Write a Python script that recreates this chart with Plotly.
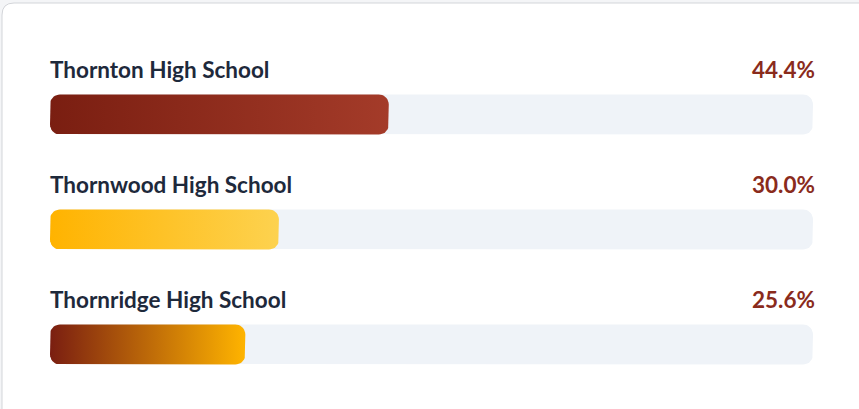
import numpy as np
import plotly.graph_objects as go

schools = ["Thornton High School", "Thornwood High School", "Thornridge High School"]
shares = [44.4, 30.0, 25.6]
labels = ["44.4%", "30.0%", "25.6%"]
grad_start = ["#7a1e11", "#ffb300", "#7a1e11"]
grad_end = ["#a43b29", "#fdd24f", "#ffb400"]

W, H = 859, 409
TRACK_X0, TRACK_X1 = 50, 813
PX_PER_UNIT = (TRACK_X1 - TRACK_X0) / 100.0
BAR_H = 40
RADIUS = 10
ROW_CENTERS = [114.5, 229.5, 344.5]


def rounded_rect(x0, x1, yc, h, r_px):
    rx = r_px / PX_PER_UNIT
    ry = r_px
    y0, y1 = yc - h / 2, yc + h / 2
    xs, ys = [], []
    corners = [
        (x1 - rx, y0 + ry, -np.pi / 2, 0),
        (x1 - rx, y1 - ry, 0, np.pi / 2),
        (x0 + rx, y1 - ry, np.pi / 2, np.pi),
        (x0 + rx, y0 + ry, np.pi, 1.5 * np.pi),
    ]
    for cx, cy, a0, a1 in corners:
        t = np.linspace(a0, a1, 10)
        xs.extend(cx + rx * np.cos(t))
        ys.extend(cy + ry * np.sin(t))
    xs.append(xs[0])
    ys.append(ys[0])
    return xs, ys


fig = go.Figure()

for i, (name, val) in enumerate(zip(schools, shares)):
    yc = ROW_CENTERS[i]
    tx, ty = rounded_rect(0, 100, yc, BAR_H, RADIUS)
    fig.add_trace(go.Scatter(x=tx, y=ty, mode="lines", fill="toself",
                             fillcolor="#eff3f8", line=dict(width=0),
                             hoverinfo="skip", showlegend=False))
    bx, by = rounded_rect(0, val, yc, BAR_H, RADIUS)
    fig.add_trace(go.Scatter(x=bx, y=by, mode="lines", fill="toself",
                             fillgradient=dict(type="horizontal",
                                               colorscale=[[0, grad_start[i]], [1, grad_end[i]]]),
                             line=dict(width=0), name=name,
                             hovertemplate=f"{name}: {labels[i]}<extra></extra>",
                             showlegend=False))
    fig.add_annotation(x=0, y=yc - 45, text=name, showarrow=False,
                       xanchor="left", yanchor="middle", xshift=-2,
                       font=dict(family="Lato", size=22.5, color="#1e293b", weight="bold"))
    fig.add_annotation(x=100, y=yc - 45, text=labels[i], showarrow=False,
                       xanchor="right", yanchor="middle", xshift=4,
                       font=dict(family="Lato", size=22.5, color="#8a2b1c", weight="bold"))

# card background
fig.add_shape(type="path", xref="paper", yref="paper", layer="below",
              path=("M {a},{b} L {c},{b} L {c},{d} L {e},{d} Q {f},{d} {f},{g} L {f},{h} Q {f},{b} {i},{b} Z").format(
                  a=1.02, b=-0.05, c=1.02, d=1 - 3 / H, e=14 / W, f=2 / W, g=1 - 15 / H, h=-0.05, i=14 / W),
              fillcolor="white", line=dict(color="#d3d5d9", width=1))

fig.update_layout(
    width=W, height=H,
    margin=dict(l=0, r=0, t=0, b=0),
    paper_bgcolor="#f4f5f7",
    plot_bgcolor="rgba(0,0,0,0)",
    xaxis=dict(range=[-TRACK_X0 / PX_PER_UNIT, (W - TRACK_X0) / PX_PER_UNIT],
               visible=False, fixedrange=True),
    yaxis=dict(range=[H, 0], visible=False, fixedrange=True),
    font=dict(family="Lato"),
)

fig.write_html("out.html", config={"displayModeBar": False},
               post_script="document.body.style.margin='0';document.body.style.overflow='hidden';")
